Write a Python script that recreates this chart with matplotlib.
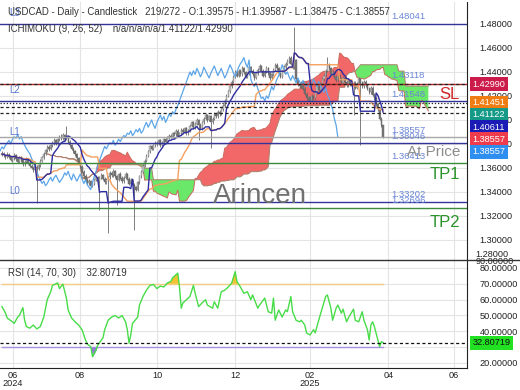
import matplotlib.pyplot as plt
import numpy as np
import pandas as pd

plt.rcParams['font.family'] = ['Liberation Sans', 'DejaVu Sans']

# daily candles, visible bars 0..219 (open = previous close)
first_open = 1.3712
closes = [1.3720, 1.3705, 1.3688, 1.3712, 1.3694, 1.3668, 1.3682, 1.3710, 1.3674, 1.3652,
          1.3690, 1.3664, 1.3632, 1.3650, 1.3678, 1.3642, 1.3620, 1.3604, 1.3585, 1.3612,
          1.3594, 1.3622, 1.3660, 1.3690, 1.3718, 1.3748, 1.3776, 1.3760, 1.3790, 1.3808,
          1.3830, 1.3802, 1.3838, 1.3860, 1.3848, 1.3878, 1.3842, 1.3862, 1.3820, 1.3790,
          1.3762, 1.3740, 1.3718, 1.3680, 1.3650, 1.3612, 1.3570, 1.3532, 1.3500, 1.3472,
          1.3490, 1.3452, 1.3470, 1.3500, 1.3522, 1.3490, 1.3520, 1.3540, 1.3510, 1.3480,
          1.3500, 1.3522, 1.3560, 1.3540, 1.3572, 1.3530, 1.3500, 1.3550, 1.3520, 1.3490,
          1.3520, 1.3550, 1.3510, 1.3470, 1.3500, 1.3460, 1.3440, 1.3420, 1.3480, 1.3530,
          1.3570, 1.3620, 1.3660, 1.3700, 1.3740, 1.3780, 1.3760, 1.3790, 1.3810, 1.3800,
          1.3830, 1.3790, 1.3810, 1.3840, 1.3820, 1.3850, 1.3870, 1.3860, 1.3890, 1.3880,
          1.3910, 1.3870, 1.3890, 1.3920, 1.3900, 1.3930, 1.3890, 1.3910, 1.3950, 1.3980,
          1.3940, 1.3970, 1.4000, 1.3960, 1.3930, 1.3980, 1.4010, 1.4040, 1.4000, 1.4030,
          1.3980, 1.4010, 1.4050, 1.4030, 1.4070, 1.4050, 1.4090, 1.4120, 1.4160, 1.4200,
          1.4240, 1.4280, 1.4320, 1.4360, 1.4400, 1.4370, 1.4410, 1.4380, 1.4430, 1.4400,
          1.4360, 1.4390, 1.4440, 1.4410, 1.4380, 1.4350, 1.4390, 1.4420, 1.4450, 1.4410,
          1.4370, 1.4400, 1.4430, 1.4390, 1.4350, 1.4380, 1.4420, 1.4460, 1.4430, 1.4390,
          1.4360, 1.4400, 1.4440, 1.4470, 1.4490, 1.4520, 1.4470, 1.4440, 1.4500, 1.4340,
          1.4300, 1.4280, 1.4310, 1.4260, 1.4220, 1.4180, 1.4190, 1.4160, 1.4200, 1.4180,
          1.4230, 1.4280, 1.4250, 1.4300, 1.4340, 1.4370, 1.4410, 1.4460, 1.4430, 1.4380,
          1.4400, 1.4360, 1.4330, 1.4370, 1.4340, 1.4310, 1.4350, 1.4320, 1.4290, 1.4330,
          1.4300, 1.4280, 1.4310, 1.4270, 1.4300, 1.4340, 1.4310, 1.4280, 1.4320, 1.4290,
          1.4260, 1.4230, 1.4270, 1.4210, 1.4180, 1.4130, 1.4090, 1.4010, 1.39575, 1.38557]
highs = [1.3738, 1.3731, 1.3719, 1.3730, 1.3726, 1.3702, 1.3698, 1.3724, 1.3718, 1.3686,
         1.3704, 1.3699, 1.3672, 1.3666, 1.3692, 1.3684, 1.3655, 1.3634, 1.3615, 1.3626,
         1.3624, 1.3635, 1.3672, 1.3704, 1.3731, 1.3762, 1.3790, 1.3788, 1.3804, 1.3824,
         1.3846, 1.3840, 1.3852, 1.3876, 1.3880, 1.3892, 1.3886, 1.3946, 1.3870, 1.3832,
         1.3802, 1.3776, 1.3752, 1.3728, 1.3694, 1.3662, 1.3625, 1.3584, 1.3546, 1.3514,
         1.3506, 1.3500, 1.3486, 1.3514, 1.3538, 1.3534, 1.3534, 1.3556, 1.3552, 1.3522,
         1.3516, 1.3536, 1.3574, 1.3578, 1.3588, 1.3584, 1.3542, 1.3562, 1.3564, 1.3532,
         1.3534, 1.3566, 1.3562, 1.3522, 1.3514, 1.3512, 1.3474, 1.3454, 1.3492, 1.3544,
         1.3584, 1.3634, 1.3674, 1.3714, 1.3754, 1.3794, 1.3792, 1.3804, 1.3826, 1.3824,
         1.3844, 1.3842, 1.3824, 1.3854, 1.3852, 1.3864, 1.3884, 1.3882, 1.3904, 1.3902,
         1.3924, 1.3922, 1.3904, 1.3934, 1.3932, 1.3944, 1.3942, 1.3924, 1.3964, 1.3994,
         1.3992, 1.3984, 1.4016, 1.4012, 1.3972, 1.3994, 1.4026, 1.4056, 1.4052, 1.4044,
         1.4042, 1.4024, 1.4064, 1.4062, 1.4084, 1.4082, 1.4104, 1.4136, 1.4174, 1.4214,
         1.4254, 1.4296, 1.4336, 1.4376, 1.4416, 1.4418, 1.4426, 1.4424, 1.4446, 1.4444,
         1.4412, 1.4404, 1.4456, 1.4454, 1.4422, 1.4392, 1.4404, 1.4436, 1.4466, 1.4462,
         1.4422, 1.4414, 1.4446, 1.4442, 1.4402, 1.4394, 1.4436, 1.4476, 1.4472, 1.4442,
         1.4402, 1.4414, 1.4456, 1.4486, 1.4506, 1.4536, 1.4532, 1.4482, 1.4775, 1.4512,
         1.4352, 1.4314, 1.4324, 1.4322, 1.4272, 1.4232, 1.4204, 1.4202, 1.4214, 1.4212,
         1.4244, 1.4294, 1.4292, 1.4314, 1.4356, 1.4386, 1.4426, 1.4525, 1.4472, 1.4442,
         1.4414, 1.4412, 1.4372, 1.4384, 1.4382, 1.4352, 1.4364, 1.4362, 1.4332, 1.4344,
         1.4342, 1.4314, 1.4324, 1.4322, 1.4314, 1.4356, 1.4352, 1.4322, 1.4334, 1.4332,
         1.4302, 1.4272, 1.4284, 1.4282, 1.4222, 1.4192, 1.4142, 1.4102, 1.4022, 1.39587]
lows = [1.3696, 1.3690, 1.3672, 1.3680, 1.3681, 1.3655, 1.3651, 1.3670, 1.3662, 1.3638,
        1.3645, 1.3650, 1.3620, 1.3618, 1.3641, 1.3630, 1.3606, 1.3590, 1.3570, 1.3576,
        1.3308, 1.3582, 1.3610, 1.3648, 1.3679, 1.3705, 1.3736, 1.3744, 1.3750, 1.3776,
        1.3795, 1.3788, 1.3790, 1.3826, 1.3832, 1.3836, 1.3828, 1.3830, 1.3806, 1.3776,
        1.3748, 1.3726, 1.3702, 1.3666, 1.3636, 1.3598, 1.3556, 1.3518, 1.3486, 1.3458,
        1.3460, 1.3438, 1.3440, 1.3458, 1.3488, 1.3476, 1.3250, 1.3506, 1.3496, 1.3466,
        1.3468, 1.3058, 1.3510, 1.3526, 1.3528, 1.3516, 1.3290, 1.3488, 1.3506, 1.3476,
        1.3478, 1.3508, 1.3496, 1.3456, 1.3458, 1.3446, 1.3083, 1.3406, 1.3410, 1.3468,
        1.3518, 1.3558, 1.3608, 1.3648, 1.3688, 1.3728, 1.3746, 1.3748, 1.3778, 1.3786,
        1.3788, 1.3776, 1.3778, 1.3798, 1.3806, 1.3808, 1.3838, 1.3846, 1.3848, 1.3866,
        1.3868, 1.3856, 1.3858, 1.3878, 1.3886, 1.3888, 1.3876, 1.3878, 1.3898, 1.3938,
        1.3926, 1.3928, 1.3958, 1.3830, 1.3916, 1.3918, 1.3968, 1.3998, 1.3986, 1.3988,
        1.3770, 1.3968, 1.3998, 1.4016, 1.4018, 1.4036, 1.4038, 1.4078, 1.4108, 1.4148,
        1.4188, 1.4228, 1.4268, 1.4308, 1.4348, 1.4356, 1.4358, 1.4366, 1.4368, 1.4386,
        1.4346, 1.4348, 1.4378, 1.4396, 1.4366, 1.4336, 1.4338, 1.4378, 1.4408, 1.4396,
        1.4356, 1.4358, 1.4388, 1.4376, 1.4336, 1.4338, 1.4368, 1.4408, 1.4416, 1.4376,
        1.4346, 1.4348, 1.4388, 1.4428, 1.4458, 1.4478, 1.4456, 1.4426, 1.4428, 1.4326,
        1.4286, 1.4266, 1.4268, 1.4246, 1.4206, 1.4166, 1.4168, 1.4146, 1.4148, 1.4166,
        1.4168, 1.4218, 1.4236, 1.4238, 1.4288, 1.4328, 1.4358, 1.4398, 1.4416, 1.4366,
        1.4368, 1.4346, 1.4316, 1.4318, 1.4326, 1.4296, 1.4298, 1.4306, 1.4276, 1.4278,
        1.4286, 1.4266, 1.4040, 1.4256, 1.4258, 1.4288, 1.3790, 1.4266, 1.4268, 1.4276,
        1.4246, 1.4216, 1.4218, 1.4196, 1.4166, 1.4116, 1.4076, 1.3996, 1.3940, 1.38475]

# RSI(14): bar index and value
rsi_bars = [0, 2, 3, 6, 7, 9, 10, 12, 13, 14, 16, 18, 20, 22, 24, 26, 28, 29, 32, 33,
            35, 37, 38, 40, 42, 44, 46, 48, 49, 51, 52, 54, 55, 58, 59, 61, 63, 65, 67, 69,
            71, 72, 73, 74, 75, 78, 79, 81, 83, 85, 87, 89, 91, 93, 95, 97, 98, 101, 102, 103,
            104, 106, 108, 110, 111, 113, 115, 117, 118, 121, 122, 124, 126, 128, 130, 132, 134, 135, 137, 139,
            141, 143, 144, 147, 148, 151, 153, 155, 156, 157, 159, 161, 163, 164, 166, 167, 169, 171, 172, 174,
            175, 177, 179, 180, 182, 184, 186, 187, 189, 190, 192, 193, 195, 196, 198, 199, 202, 203, 205, 207,
            208, 210, 211, 212, 213, 214, 216, 217, 218, 219]
rsi_vals = [55.6, 51.5, 48.4, 46.0, 45.0, 49.0, 50.0, 55.0, 47.0, 43.0, 42.0, 44.0, 41.5, 43.0, 49.0, 60.0, 65.0, 69.0, 70.6, 67.0,
            69.8, 61.0, 53.5, 48.4, 46.0, 44.0, 41.0, 34.5, 32.0, 30.3, 24.0, 28.0, 31.3, 35.8, 41.0, 47.0, 49.0, 50.0, 48.4, 50.0,
            46.0, 41.0, 32.6, 37.7, 45.0, 49.0, 56.6, 62.0, 66.0, 69.0, 69.6, 67.0, 68.6, 68.0, 70.5, 71.5, 73.7, 76.8, 68.0, 54.6,
            58.0, 60.0, 62.0, 69.0, 64.0, 55.6, 58.0, 60.0, 56.6, 54.6, 58.7, 54.6, 65.0, 66.0, 68.0, 70.5, 77.7, 71.5, 68.0, 64.0,
            65.0, 60.0, 63.0, 54.6, 56.6, 61.0, 52.4, 51.5, 61.0, 47.0, 53.5, 49.0, 53.5, 52.4, 62.0, 52.4, 47.0, 46.0, 47.0, 44.0,
            39.0, 37.7, 41.0, 39.0, 47.0, 54.6, 62.0, 63.0, 54.6, 47.0, 54.6, 56.6, 51.5, 54.0, 46.0, 48.4, 54.0, 47.0, 46.0, 52.4,
            47.0, 41.0, 34.5, 44.0, 46.0, 43.0, 34.5, 30.3, 33.5, 32.80719]

title_txt = "USDCAD - Daily - Candlestick   219/272 - O:1.39575 - H:1.39587 - L:1.38475 - C:1.38557"
ichi_txt = "ICHIMOKU (9, 26, 52)    n/a/n/a/n/a/1.41122/1.42990"
rsi_txt = "RSI (14, 70, 30)    32.80719"
rsi_last = 32.80719

# horizontal levels: (value, line colour, left tag)
levels = [(1.48041, '#33339c', 'L3'), (1.41548, '#33339c', 'L2'), (1.38557, '#a8a8a8', ''),
          (1.38046, '#33339c', 'L1'), (1.36413, '#3a8c3a', ''), (1.33202, '#33339c', 'L0'),
          (1.32696, '#3a8c3a', '')]
level_numbers = [1.48041, 1.43118, 1.41548, 1.38557, 1.38046, 1.36413, 1.33202, 1.32696]
current_lines = [1.42990, 1.41451, 1.41122, 1.40611]
price_boxes = [(1.42990, '#cc1a4a'), (1.41451, '#f07c14'), (1.41122, '#169a88'),
               (1.40611, '#1a1ab4'), (1.38557, '#ee3c4c'), (1.38557, '#2f8ff0')]

tick_pos = [6.3, 44.8, 89.1, 134.0, 177.0, 222.0, 259.8]
tick_lab = ['06\n2024', '08', '10', '12', '02\n2025', '04', '06']

n = len(closes)
x = np.arange(n)
opens = [first_open] + closes[:-1]
h = pd.Series(highs)
l = pd.Series(lows)

tenkan = (h.rolling(9, min_periods=1).max() + l.rolling(9, min_periods=1).min()) / 2
kijun = (h.rolling(26, min_periods=1).max() + l.rolling(26, min_periods=1).min()) / 2
span_a = ((tenkan + kijun) / 2).values
span_b = ((h.rolling(52, min_periods=1).max() + l.rolling(52, min_periods=1).min()) / 2).values

fig = plt.figure(figsize=(5.2, 3.9), dpi=100)
ax = fig.add_axes([0, 0.33333, 0.898, 0.66154])
ax2 = fig.add_axes([0, 0.05641, 0.898, 0.27692])

xmin, xmax = -1.15, 267.2
ax.set_xlim(xmin, xmax)
ax.set_ylim(1.28333, 1.49833)

# cloud
xs = x + 26
ax.fill_between(xs, span_a, span_b, where=span_a >= span_b, interpolate=True,
                color='#f26868', lw=0, zorder=1)
ax.fill_between(xs, span_a, span_b, where=span_b > span_a, interpolate=True,
                color='#6ae86a', lw=0, zorder=1)
ax.plot(xs, span_a, color='#c86a5e', lw=0.7, zorder=1.5)
ax.plot(xs, span_b, color='#a8806a', lw=0.7, zorder=1.5)

# candles
up = np.array(closes) >= np.array(opens)
ax.vlines(x, lows, highs, color='#6a6a6a', lw=0.6, zorder=3)
body_lo = np.minimum(opens, closes)
body_h = np.maximum(np.abs(np.array(closes) - np.array(opens)), 0.0004)
ax.bar(x[up], body_h[up], bottom=body_lo[up], width=0.7, color='#c4c4c4',
       edgecolor='#7c7c7c', lw=0.3, zorder=3.2)
ax.bar(x[~up], body_h[~up], bottom=body_lo[~up], width=0.7, color='#787878',
       edgecolor='#5c5c5c', lw=0.3, zorder=3.2)

# ichimoku lines
ax.plot(x - 26, closes, color='#5ca6e8', lw=0.9, zorder=4)
ax.plot(x, kijun, color='#f4a060', lw=1.0, zorder=4)
ax.plot(x, tenkan, color='#2e2ea0', lw=1.0, zorder=4.1)

# levels
ytr = ax.get_yaxis_transform()
for val, col, tag in levels:
    ax.axhline(val, color=col, lw=1.0, zorder=5)
    if tag:
        ax.text(0.02, val + 0.005, tag, transform=ytr, color='#5a78d0',
                fontsize=7, va='bottom', ha='left', zorder=6)
for val in level_numbers:
    ax.text(0.838, val + 0.002, f'{val:.5f}', transform=ytr, color='#6a86d6',
            fontsize=6.8, va='bottom', ha='left', zorder=6)
ax.axhline(current_lines[0], color='#b02424', lw=1.0, zorder=5)
for val in current_lines:
    ls = (0, (1, 1.5)) if val == 1.41451 else (0, (2.5, 2))
    ax.axhline(val, color='#222222', lw=0.9, ls=ls, zorder=5.1)

ax.text(0.985, 1.4210, 'SL', transform=ytr, color='#d02828', fontsize=12,
        ha='right', va='center', zorder=6)
ax.text(0.985, 1.3735, 'At Price', transform=ytr, color='#8c8c8c', fontsize=11,
        ha='right', va='center', zorder=6)
ax.text(0.985, 1.3545, 'TP1', transform=ytr, color='#2a942a', fontsize=12,
        ha='right', va='center', zorder=6)
ax.text(0.985, 1.3145, 'TP2', transform=ytr, color='#2a942a', fontsize=12,
        ha='right', va='center', zorder=6)
ax.text(0.557, 1.3308, 'Arincen', transform=ytr, color='#707070', fontsize=20,
        ha='center', va='baseline', zorder=6)

ax.text(0.017, 0.962, title_txt, transform=ax.transAxes, fontsize=6.9, color='#333333',
        va='center', ha='left', zorder=7)
ax.text(0.017, 0.895, ichi_txt, transform=ax.transAxes, fontsize=6.9, color='#333333',
        va='center', ha='left', zorder=7)

# right axis
ax.set_yticks(np.arange(1.30, 1.481, 0.02))
ax.yaxis.tick_right()
ax.yaxis.set_major_formatter(plt.FuncFormatter(lambda v, p: f'{v:.5f}'))
ax.tick_params(axis='y', length=0, pad=9, labelsize=6.6, labelcolor='#222222')
ax.text(1.019, 1.2840, '1.28000', transform=ytr, fontsize=6.6, color='#222222',
        ha='left', va='bottom', clip_on=False)
ax.set_xticks(tick_pos)
ax.tick_params(axis='x', length=0, labelbottom=False)
ax.grid(True, color='#e4e4e4', lw=0.8, zorder=0)
ax.set_axisbelow(True)
for s in ['left', 'top', 'bottom']:
    ax.spines[s].set_visible(False)
ax.spines['right'].set_color('#222222')

# value boxes, pushed down so they do not overlap
step = 0.01025
prev = None
for val, col in price_boxes:
    yv = val if prev is None else min(val, prev - step)
    prev = yv
    ax.text(1.012, yv, f'{val:.5f}', transform=ytr, color='white', fontsize=6.6,
            ha='left', va='center', zorder=8, clip_on=False,
            bbox=dict(boxstyle='square,pad=0.28', fc=col, ec='none'))

# RSI panel
rb = np.array(rsi_bars, dtype=float)
rv = np.array(rsi_vals)
ax2.set_xlim(xmin, xmax)
ax2.set_ylim(16.84, 85.05)
ax2.plot(rb, rv, color='#48dc48', lw=1.0, zorder=4)
ax2.fill_between(rb, rv, 70, where=rv > 70, interpolate=True, color='#f2c232', lw=0, zorder=3)
ax2.fill_between(rb, rv, 30, where=rv < 30, interpolate=True, color='#9478d8', lw=0, zorder=3)
ax2.plot([rb[0], rb[-1]], [70, 70], color='#f2cc80', lw=1.0, zorder=2)
ax2.plot([rb[0], rb[-1]], [30, 30], color='#a890e0', lw=1.0, zorder=2)
ax2.axhline(rsi_last, color='#111111', lw=0.9, ls=(0, (2.5, 2)), zorder=5)
ax2.text(0.017, 0.88, rsi_txt, transform=ax2.transAxes, fontsize=6.9, color='#333333',
         va='center', ha='left')
ax2.set_yticks(np.arange(20, 81, 10))
ax2.yaxis.tick_right()
ax2.yaxis.set_major_formatter(plt.FuncFormatter(lambda v, p: '' if v == 30 else f'{v:.5f}'))
ax2.tick_params(axis='y', length=0, pad=9, labelsize=6.6, labelcolor='#222222')
ytr2 = ax2.get_yaxis_transform()
ax2.text(1.019, 84.3, '90.00000', transform=ytr2, fontsize=6.6, color='#222222',
         ha='left', va='center', clip_on=False)
ax2.text(1.012, rsi_last, f'{rsi_last:.5f}', transform=ytr2, color='#111111', fontsize=6.6,
         ha='left', va='center', zorder=8, clip_on=False,
         bbox=dict(boxstyle='square,pad=0.28', fc='#22e022', ec='none'))
ax2.set_xticks(tick_pos)
ax2.set_xticklabels(tick_lab, linespacing=0.85)
ax2.tick_params(axis='x', length=0, pad=2, labelsize=6.6, labelcolor='#222222')
ax2.grid(True, color='#e4e4e4', lw=0.8, zorder=0)
ax2.set_axisbelow(True)
ax2.spines['left'].set_visible(False)
ax2.spines['top'].set_visible(False)
ax2.spines['right'].set_color('#222222')
ax2.spines['bottom'].set_color('#222222')

# panel separator runs across the whole width
fig.add_artist(plt.Line2D([0, 1], [0.3333, 0.3333], transform=fig.transFigure,
                          color='#333333', lw=1.0))

fig.savefig('out.png', dpi=100)
